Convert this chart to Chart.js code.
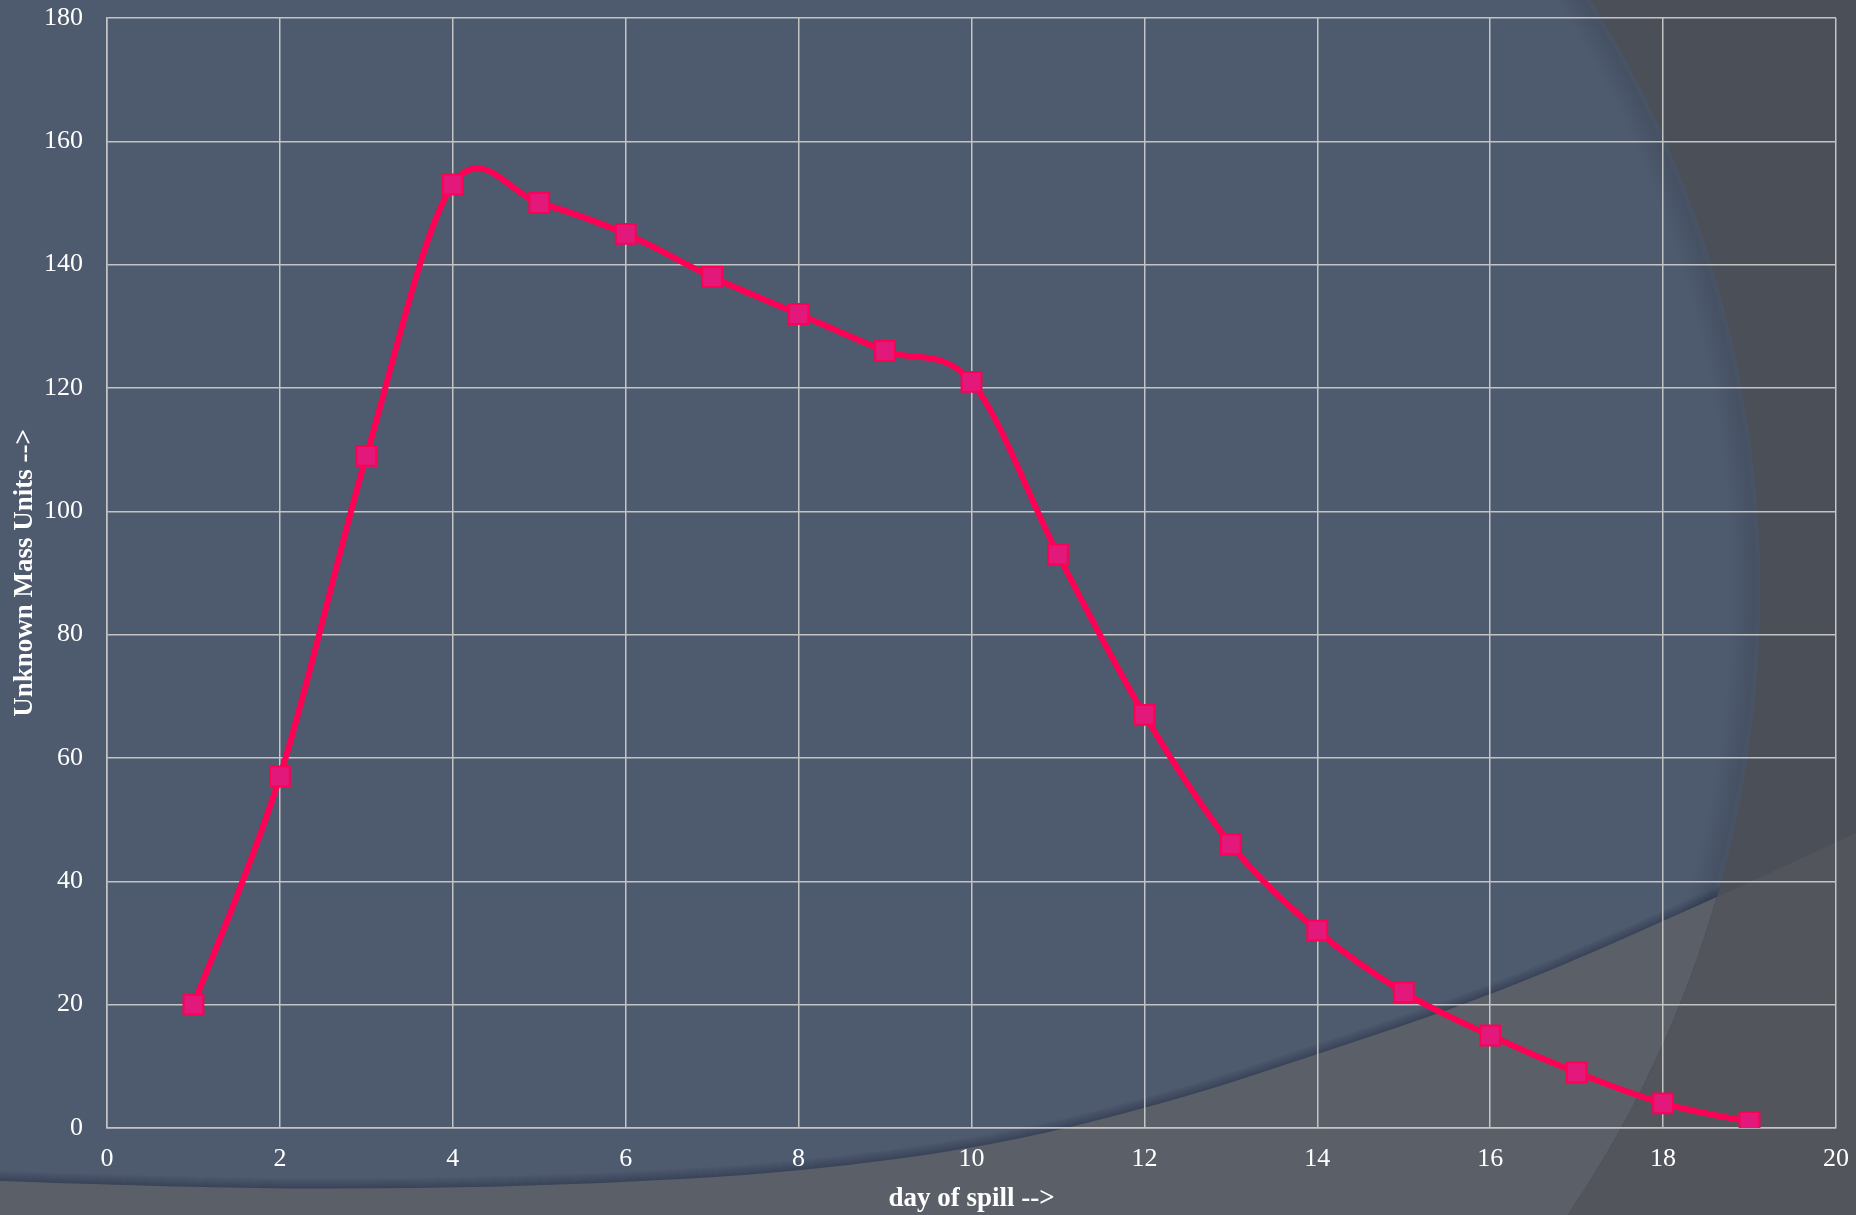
<!DOCTYPE html>
<html>
<head>
<meta charset="utf-8">
<script src="https://cdn.jsdelivr.net/npm/chart.js@4/dist/chart.umd.min.js"></script>
<style>
  html, body { margin: 0; padding: 0; background: #4b4f58; }
  #wrap { width: 1856px; height: 1215px; position: relative; }
  canvas { display: block; }
</style>
</head>
<body>
<div id="wrap"><canvas id="c" width="1856" height="1215"></canvas></div>
<script>
const days = [1, 2, 3, 4, 5, 6, 7, 8, 9, 10, 11, 12, 13, 14, 15, 16, 17, 18, 19];
const mass = [20, 57, 109, 153, 150, 145, 138, 132, 126, 121, 93, 67, 46, 32, 22, 15, 9, 4, 1];
const xTitle = 'day of spill -->';
const yTitle = 'Unknown Mass Units -->';

const FONT = '"Liberation Serif", "Times New Roman", serif';

const backgroundPlugin = {
  id: 'bgShapes',
  beforeDraw(chart) {
    const ctx = chart.ctx;
    const W = chart.width, H = chart.height;
    const cx = 649, cy = 590, r = 1111;
    ctx.save();
    ctx.fillStyle = '#4b4f58';
    ctx.fillRect(0, 0, W, H);

    const bottomPts = [[0,1181],[200,1188],[400,1189],[600,1184],[800,1172],[1000,1145],[1177,1100],[1300,1060],[1500,993],[1700,905],[1856,833]];
    function bottomPath() {
      ctx.beginPath();
      ctx.moveTo(bottomPts[0][0], bottomPts[0][1]);
      for (let i = 1; i < bottomPts.length - 1; i++) {
        const mx = (bottomPts[i][0] + bottomPts[i+1][0]) / 2;
        const my = (bottomPts[i][1] + bottomPts[i+1][1]) / 2;
        ctx.quadraticCurveTo(bottomPts[i][0], bottomPts[i][1], mx, my);
      }
      const last = bottomPts[bottomPts.length - 1];
      ctx.lineTo(last[0], last[1]);
      ctx.lineTo(W, H);
      ctx.lineTo(0, H);
      ctx.closePath();
    }
    bottomPath();
    ctx.fillStyle = '#52555b';
    ctx.fill();

    ctx.save();
    ctx.beginPath();
    ctx.arc(cx, cy, r, 0, Math.PI * 2);
    ctx.clip();
    const g = ctx.createRadialGradient(cx, cy, 0, cx, cy, r);
    g.addColorStop(0, '#4e5a6e');
    g.addColorStop((r - 30) / r, '#4e5a6e');
    g.addColorStop((r - 6) / r, '#465164');
    g.addColorStop(1, '#4a5467');
    ctx.fillStyle = g;
    ctx.fillRect(0, 0, W, H);
    for (let k = 1; k <= 10; k++) {
      ctx.save();
      ctx.translate(0, -k);
      bottomPath();
      ctx.fillStyle = 'rgba(30,38,52,0.035)';
      ctx.fill();
      ctx.restore();
    }
    bottomPath();
    ctx.fillStyle = '#5b6068';
    ctx.fill();
    ctx.restore();
    ctx.restore();
  }
};

// Excel-style smoothing: Catmull-Rom control points (1/6 of neighbour span),
// computed from the pixel positions the library's scales gave each point.
const smoothPlugin = {
  id: 'excelSmooth',
  beforeDatasetsDraw(chart) {
    chart.getSortedVisibleDatasetMetas().forEach(meta => {
      const line = meta.dataset;
      if (!line) return;
      line.updateControlPoints(chart.chartArea, meta.indexAxis);
      const pts = meta.data;
      const n = pts.length;
      for (let i = 0; i < n; i++) {
        const p = pts[i];
        const prev = pts[Math.max(i - 1, 0)];
        const next = pts[Math.min(i + 1, n - 1)];
        const dx = (next.x - prev.x) / 6;
        const dy = (next.y - prev.y) / 6;
        p.cp1x = p.x - dx; p.cp1y = p.y - dy;
        p.cp2x = p.x + dx; p.cp2y = p.y + dy;
      }
      delete line._path;
    });
  }
};

const points = days.map((d, i) => ({ x: d, y: mass[i] }));

new Chart(document.getElementById('c'), {
  type: 'line',
  data: {
    datasets: [{
      data: points,
      borderColor: '#ff0055',
      borderWidth: 6,
      tension: 0.4,
      pointStyle: 'rect',
      pointRadius: 14,
      pointHoverRadius: 14,
      pointBackgroundColor: '#e2187a',
      pointBorderColor: '#ff0055',
      pointBorderWidth: 2,
      fill: false
    }]
  },
  options: {
    responsive: false,
    animation: false,
    events: [],
    layout: { padding: { top: 18, right: 20, left: 0, bottom: 0 } },
    plugins: {
      legend: { display: false },
      tooltip: { enabled: false }
    },
    scales: {
      x: {
        type: 'linear',
        min: 0, max: 20,
        afterFit(s) { s.height = 87; },
        ticks: {
          stepSize: 2,
          color: '#ffffff',
          padding: 0,
          maxRotation: 0,
          font: { family: FONT, size: 26 }
        },
        grid: { color: '#c4c4c4', lineWidth: 1.5, drawTicks: true, tickLength: 16, tickColor: 'rgba(0,0,0,0)' },
        border: { color: '#c4c4c4', width: 1.5 },
        title: {
          display: true,
          text: xTitle,
          color: '#ffffff',
          font: { family: FONT, size: 27, weight: 'bold' },
          padding: { top: 0, bottom: 0 }
        }
      },
      y: {
        type: 'linear',
        min: 0, max: 180,
        afterFit(s) { s.width = 107; },
        ticks: {
          stepSize: 20,
          color: '#ffffff',
          padding: 0,
          font: { family: FONT, size: 26 }
        },
        grid: { color: '#c4c4c4', lineWidth: 1.5, drawTicks: true, tickLength: 24, tickColor: 'rgba(0,0,0,0)' },
        border: { color: '#c4c4c4', width: 1.5 },
        title: {
          display: true,
          text: yTitle,
          color: '#ffffff',
          font: { family: FONT, size: 27, weight: 'bold' },
          padding: { top: 9, bottom: 0 }
        }
      }
    }
  },
  plugins: [backgroundPlugin, smoothPlugin]
});
</script>
</body>
</html>
